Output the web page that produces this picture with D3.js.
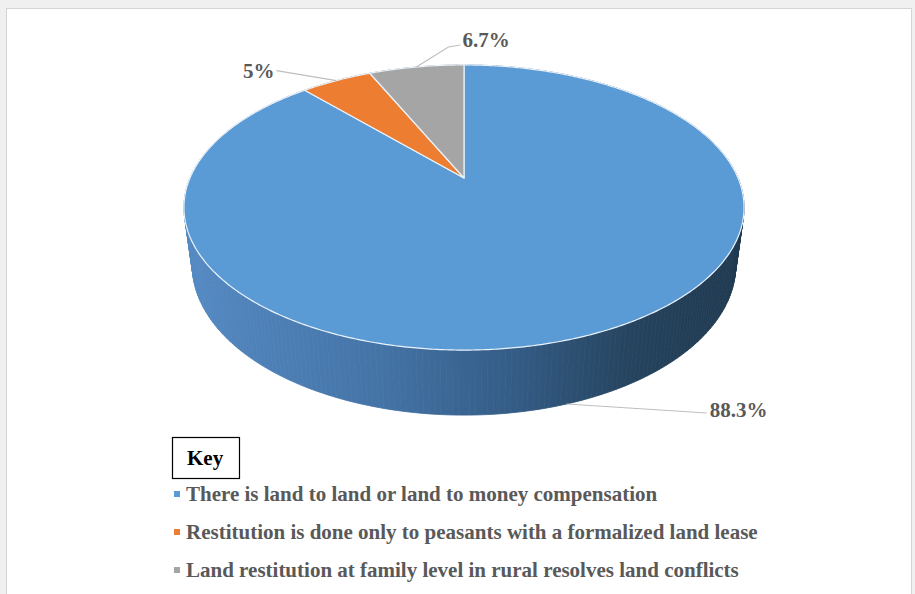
<!DOCTYPE html>
<html>
<head>
<meta charset="utf-8">
<script src="https://cdn.jsdelivr.net/npm/d3@7"></script>
<style>
  body { margin: 0; background: #f0f0f0; }
  svg { display: block; }
</style>
</head>
<body>
<div id="chart"></div>
<script>
var categories = [
  "There is land to land or land to money compensation",
  "Restitution is done only to peasants with a formalized land lease",
  "Land restitution at family level in rural resolves land conflicts"
];
var values = [88.3, 5, 6.7];
var labels = ["88.3%", "5%", "6.7%"];
var colors = ["#5b9bd5", "#ed7d31", "#a5a5a5"];

var width = 915, height = 594;
var serif = "'Times New Roman', 'Liberation Serif', 'DejaVu Serif', serif";

// 3d pie projection settings
var cx = 464, cy = 178;
var R = 274, depth = 67.5, focal = 1148;
var tilt = Math.asin(0.498);

function project(a, r, Y) {
  // a: angle clockwise from top (far side), r: radius, Y: height (0 top face)
  var X = r * Math.sin(a), Z = r * Math.cos(a);
  var yy = Y * Math.cos(tilt) + Z * Math.sin(tilt);
  var zz = Z * Math.cos(tilt) - Y * Math.sin(tilt);
  var s = focal / (focal + zz);
  return [cx + X * s, cy - yy * s];
}

var svg = d3.select("#chart").append("svg")
  .attr("width", width)
  .attr("height", height);

// chart area
svg.append("rect")
  .attr("x", 6.5).attr("y", 8.5)
  .attr("width", 905).attr("height", 600)
  .attr("fill", "#ffffff")
  .attr("stroke", "#d4d4d4");

var defs = svg.append("defs");
var grad = defs.append("linearGradient")
  .attr("id", "sideGrad")
  .attr("gradientUnits", "userSpaceOnUse")
  .attr("x1", cx - R).attr("x2", cx + R)
  .attr("y1", 0).attr("y2", 0);
grad.selectAll("stop")
  .data([[0, "#5489c2"], [0.35, "#4473a6"], [0.6, "#335b84"], [0.8, "#26445f"], [1, "#1f3950"]])
  .enter().append("stop")
  .attr("offset", function(d) { return d[0]; })
  .attr("stop-color", function(d) { return d[1]; });

var pie = d3.pie().sort(null).value(function(d) { return d; });
var arcs = pie(values);

var line = d3.line();
var step = Math.PI / 180;

// side of the cylinder
var side = svg.append("g");
arcs.forEach(function(d, i) {
  var quads = [];
  for (var a = d.startAngle; a < d.endAngle; a += step) {
    var b = Math.min(a + step, d.endAngle);
    quads.push([project(a, R, 0), project(b, R, 0), project(b, R, -depth), project(a, R, -depth)]);
  }
  side.selectAll(null)
    .data(quads)
    .enter().append("path")
    .attr("d", function(q) { return line(q) + "Z"; })
    .attr("fill", i === 0 ? "url(#sideGrad)" : d3.color(colors[i]).darker(1.2))
    .attr("stroke", i === 0 ? "url(#sideGrad)" : d3.color(colors[i]).darker(1.2))
    .attr("stroke-width", 0.8);
});

// top face
function slicePath(d) {
  var pts = [project(0, 0, 0)];
  for (var a = d.startAngle; a < d.endAngle; a += step / 2) pts.push(project(a, R, 0));
  pts.push(project(d.endAngle, R, 0));
  return line(pts) + "Z";
}

svg.append("g").selectAll("path")
  .data(arcs)
  .enter().append("path")
  .attr("d", slicePath)
  .attr("fill", function(d, i) { return colors[i]; })
  .attr("stroke", "#eaf2fb")
  .attr("stroke-width", 1.2)
  .attr("stroke-linejoin", "round");

// data labels with leader lines
var labelOffsets = [
  { y: -depth, line: [[0, 0], [140, 9]], text: [143, 6], anchor: "start" },
  { y: 0, line: [[0, 0], [-60, -10]], text: [-62, -10], anchor: "end" },
  { y: 0, line: [[0, 0], [32, -20], [44, -22]], text: [46, -27], anchor: "start" }
];

var lab = svg.append("g");
arcs.forEach(function(d, i) {
  var o = labelOffsets[i];
  var mid = (d.startAngle + d.endAngle) / 2;
  var p = project(mid, R, o.y);
  if (i === 0) p = project(mid + 0.05, R, o.y);
  lab.append("path")
    .attr("d", line(o.line.map(function(q) { return [p[0] + q[0], p[1] + q[1]]; })))
    .attr("fill", "none")
    .attr("stroke", "#bfbfbf")
    .attr("stroke-width", 1.2);
  lab.append("text")
    .attr("x", p[0] + o.text[0])
    .attr("y", p[1] + o.text[1])
    .attr("dy", "0.35em")
    .attr("text-anchor", o.anchor)
    .attr("font-family", serif)
    .attr("font-weight", "bold")
    .attr("font-size", 21)
    .attr("fill", "#595959")
    .text(labels[i]);
});

// legend
var legend = svg.append("g").attr("transform", "translate(172,437)");
legend.append("rect")
  .attr("x", 0.5).attr("y", 0.5)
  .attr("width", 67).attr("height", 41)
  .attr("fill", "#ffffff")
  .attr("stroke", "#000000")
  .attr("stroke-width", 1.2);
legend.append("text")
  .attr("x", 15).attr("y", 28)
  .attr("font-family", serif)
  .attr("font-weight", "bold")
  .attr("font-size", 21)
  .attr("fill", "#000000")
  .text("Key");

var rowY = d3.scalePoint().domain(categories).range([57, 133]);
var items = legend.selectAll(".item")
  .data(categories)
  .enter().append("g")
  .attr("class", "item")
  .attr("transform", function(d) { return "translate(0," + rowY(d) + ")"; });
items.append("rect")
  .attr("x", 2).attr("y", -3)
  .attr("width", 6).attr("height", 6)
  .attr("fill", function(d, i) { return colors[i]; });
items.append("text")
  .attr("x", 14)
  .attr("dy", "0.35em")
  .attr("font-family", serif)
  .attr("font-weight", "bold")
  .attr("font-size", 21)
  .attr("fill", "#595959")
  .text(function(d) { return d; });
</script>
</body>
</html>
